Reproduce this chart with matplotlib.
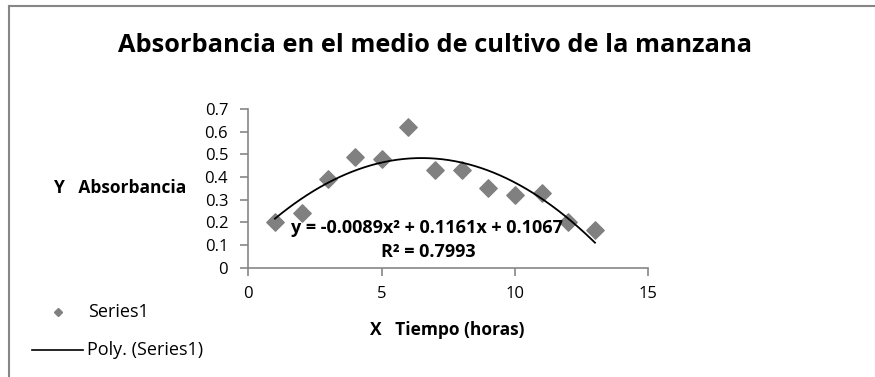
import numpy as np
import matplotlib.pyplot as plt
from matplotlib.lines import Line2D

# data
tiempo = [1, 2, 3, 4, 5, 6, 7, 8, 9, 10, 11, 12, 13]
absorbancia = [0.20, 0.24, 0.39, 0.49, 0.48, 0.62, 0.43, 0.43, 0.35, 0.32, 0.33, 0.20, 0.165]
eq_text = "y = -0.0089x² + 0.1161x + 0.1067"
r2_text = "R² = 0.7993"
xticks = [0, 5, 10, 15]
yticks = [0, 0.1, 0.2, 0.3, 0.4, 0.5, 0.6, 0.7]

plt.rcParams['font.family'] = ['Open Sans', 'DejaVu Sans']

W, H = 875, 377
fig = plt.figure(figsize=(W / 100, H / 100), dpi=100)
ax = fig.add_axes([248.3 / W, 1 - 267.5 / H, 400 / W, 158.5 / H])

grey = '#868686'
ax.scatter(tiempo, absorbancia, marker='D', s=78, color='#808080', zorder=3)

# polynomial trendline (order 2), as Excel draws it
coef = np.polyfit(tiempo, absorbancia, 2)
xs = np.linspace(min(tiempo), max(tiempo), 200)
ax.plot(xs, np.polyval(coef, xs), color='black', lw=1.3, zorder=4)

ax.set_xlim(0, 15)
ax.set_ylim(0, 0.7)
ax.set_xticks(xticks)
ax.set_yticks(yticks)
ax.set_yticklabels(['0' if v == 0 else f'{v:.1f}' for v in yticks])
for s in ['top', 'right']:
    ax.spines[s].set_visible(False)
for s in ['left', 'bottom']:
    ax.spines[s].set_color(grey)
    ax.spines[s].set_linewidth(1.2)
ax.tick_params(axis='both', colors=grey, labelcolor='black', labelsize=12,
               length=5.5, width=1.2)
ax.tick_params(axis='y', pad=9)
ax.tick_params(axis='x', pad=8)
ax.set_facecolor('none')

# trendline label
fig.text(427 / W, 1 - 228 / H, eq_text, ha='center', va='center', fontsize=13,
         fontweight='bold', zorder=5)
fig.text(428 / W, 1 - 252 / H, r2_text, ha='center', va='center', fontsize=13,
         fontweight='bold', zorder=5)

fig.text(435 / W, 1 - 45 / H, "Absorbancia en el medio de cultivo de la manzana",
         ha='center', va='center', fontsize=18.3, fontweight='bold')
fig.text(120 / W, 1 - 188 / H, "Y   Absorbancia", ha='center', va='center',
         fontsize=12.5, fontweight='bold')
fig.text(447 / W, 1 - 330 / H, "X   Tiempo (horas)", ha='center', va='center',
         fontsize=12.5, fontweight='bold')

# legend entries
fig.add_artist(Line2D([58 / W], [1 - 312 / H], marker='D', color='#808080',
                      markersize=4.5, lw=0))
fig.text(88 / W, 1 - 312 / H, "Series1", ha='left', va='center', fontsize=13)
fig.add_artist(Line2D([32 / W, 83 / W], [1 - 350 / H, 1 - 350 / H],
                      color='black', lw=1.2))
fig.text(87 / W, 1 - 350 / H, "Poly. (Series1)", ha='left', va='center', fontsize=13)

# chart frame (left and top edges visible)
fig.add_artist(Line2D([9 / W, 9 / W], [0, 1 - 6 / H], color=grey, lw=1.5))
fig.add_artist(Line2D([9 / W, 1], [1 - 6 / H, 1 - 6 / H], color=grey, lw=1.5))

fig.savefig('out.png', dpi=100)
